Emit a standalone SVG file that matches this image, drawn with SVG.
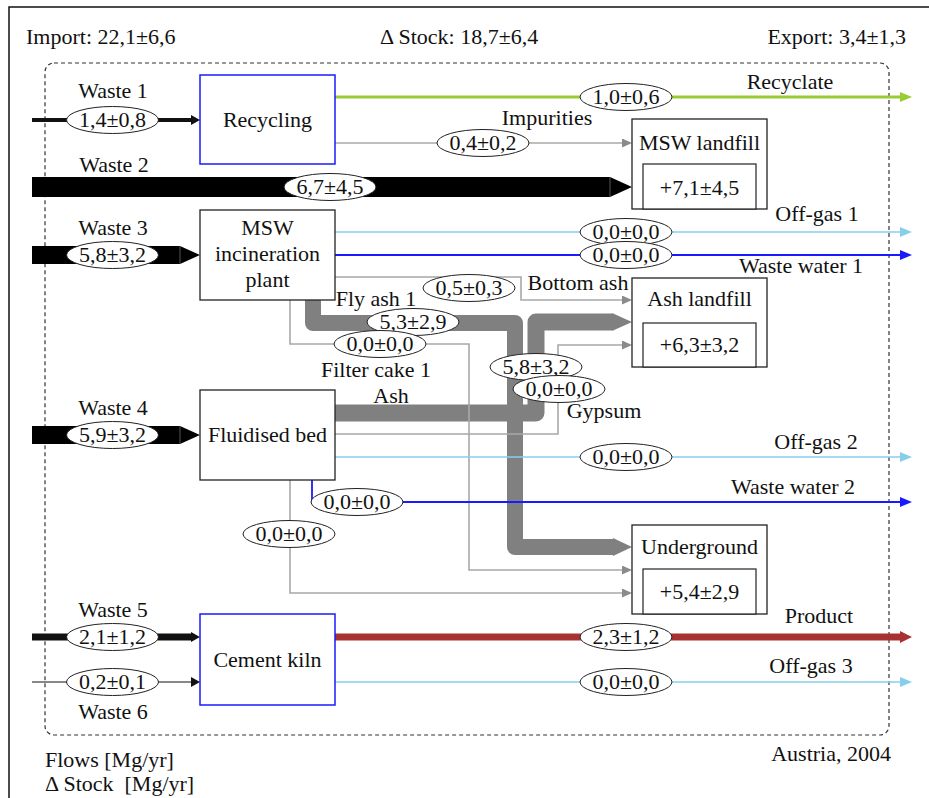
<svg xmlns="http://www.w3.org/2000/svg" width="929" height="798" viewBox="0 0 929 798">
  <style>
    text { font-family: "Liberation Serif", "Times New Roman", serif; font-size: 22px; fill: #111; }
    .c { text-anchor: middle; }
    .e { text-anchor: end; }
    .pre { white-space: pre; }
    .box { fill: #fff; stroke: #222; stroke-width: 1.3; }
    .proc-blue { fill: #fff; stroke: #1a1aff; stroke-width: 1.5; }
    .inner { fill: #fff; stroke: #222; stroke-width: 1.2; }
    .val { fill: #fff; stroke: #222; stroke-width: 1; }
    .thin-gray { fill: none; stroke: #a8a8a8; stroke-width: 1.6; }
    .band-gray { fill: none; stroke: #808080; stroke-linejoin: round; }
    .offgas { fill: none; stroke: #87ceeb; stroke-width: 1.4; }
    .water { fill: none; stroke: #1a1aff; stroke-width: 1.8; }
  </style>
  <defs>
    <marker id="arr-gray" markerUnits="userSpaceOnUse" markerWidth="10" markerHeight="9" refX="0" refY="4.5" orient="auto">
      <path d="M0,0 L10,4.5 L0,9 z" fill="#8a8a8a"/>
    </marker>
    <marker id="arr-sky" markerUnits="userSpaceOnUse" markerWidth="12" markerHeight="10" refX="0" refY="5" orient="auto">
      <path d="M0,0 L12,5 L0,10 z" fill="#87ceeb"/>
    </marker>
    <marker id="arr-blue" markerUnits="userSpaceOnUse" markerWidth="12" markerHeight="10" refX="0" refY="5" orient="auto">
      <path d="M0,0 L12,5 L0,10 z" fill="#1a1aff"/>
    </marker>
    <marker id="arr-green" markerUnits="userSpaceOnUse" markerWidth="12" markerHeight="10" refX="0" refY="5" orient="auto">
      <path d="M0,0 L12,5 L0,10 z" fill="#99cc33"/>
    </marker>
    <marker id="arr-red" markerUnits="userSpaceOnUse" markerWidth="12" markerHeight="12" refX="0" refY="6" orient="auto">
      <path d="M0,0 L12,6 L0,12 z" fill="#a83232"/>
    </marker>
    <marker id="arr-black" markerUnits="userSpaceOnUse" markerWidth="9" markerHeight="10" refX="0" refY="5" orient="auto">
      <path d="M0,0 L9,5 L0,10 z" fill="#111"/>
    </marker>
  </defs>

  <!-- page frame -->
  <path d="M9,798 V7 H929" fill="none" stroke="#111" stroke-width="1.5"/>

  <!-- totals -->
  <text x="26" y="44">Import: 22,1±6,6</text>
  <text x="380" y="44">Δ Stock: 18,7±6,4</text>
  <text class="e" x="906" y="44">Export: 3,4±1,3</text>

  <!-- system boundary -->
  <rect id="system-boundary" x="45" y="63" width="844" height="672" rx="9" fill="none" stroke="#333" stroke-width="1.2" stroke-dasharray="4,3"/>

  <g id="connectors">
    <!-- thick grey ash bands -->
    <path class="band-gray" stroke-width="16" d="M313,300 V323 H515 V547 H613"/>
    <polygon points="613,538 632,547 613,556" fill="#808080"/>
    <path class="band-gray" stroke-width="17" d="M335,413 H536 V322 H612"/>
    <polygon points="612,313 632,322 612,331" fill="#808080"/>

    <!-- thin grey flows -->
    <path class="thin-gray" d="M335,143 H622" marker-end="url(#arr-gray)"/>
    <path class="thin-gray" d="M335,277 H521 V300 H622" marker-end="url(#arr-gray)"/>
    <path class="thin-gray" d="M290,300 V344 H469 V570 H622" marker-end="url(#arr-gray)"/>
    <path class="thin-gray" d="M335,434 H558 V345 H622" marker-end="url(#arr-gray)"/>
    <path class="thin-gray" d="M290,480 V593 H622" marker-end="url(#arr-gray)"/>

    <!-- inputs -->
    <path d="M32,120 H191" fill="none" stroke="#111" stroke-width="4" marker-end="url(#arr-black)"/>
    <polygon points="32,177 610,177 632,187 610,197 32,197" fill="#000"/>
    <line x1="610" y1="177" x2="610" y2="197" stroke="#555" stroke-width="1"/>
    <polygon points="32,246 180,246 200,255 180,264 32,264" fill="#000"/>
    <line x1="180" y1="246" x2="180" y2="264" stroke="#555" stroke-width="1"/>
    <polygon points="32,426 180,426 200,435 180,444 32,444" fill="#000"/>
    <line x1="180" y1="426" x2="180" y2="444" stroke="#555" stroke-width="1"/>
    <path d="M32,637 H191" fill="none" stroke="#111" stroke-width="7" marker-end="url(#arr-black)"/>
    <path d="M32,682 H191" fill="none" stroke="#111" stroke-width="1.2" marker-end="url(#arr-black)"/>

    <!-- outputs -->
    <path d="M335,97 H900" fill="none" stroke="#99cc33" stroke-width="3" marker-end="url(#arr-green)"/>
    <path class="offgas" d="M335,232 H900" marker-end="url(#arr-sky)"/>
    <path class="water" d="M335,255 H900" marker-end="url(#arr-blue)"/>
    <path class="offgas" d="M335,457 H900" marker-end="url(#arr-sky)"/>
    <path class="water" d="M312,480 V502 H900" marker-end="url(#arr-blue)"/>
    <path d="M335,637 H900" fill="none" stroke="#a83232" stroke-width="7" marker-end="url(#arr-red)"/>
    <path class="offgas" d="M335,682 H900" marker-end="url(#arr-sky)"/>
  </g>

  <g id="flow-values">
    <g><ellipse class="val" cx="112.5" cy="120" rx="46" ry="13.5"/><text class="c" x="112.5" y="127">1,4±0,8</text></g>
    <g><ellipse class="val" cx="330" cy="187" rx="46" ry="13.5"/><text class="c" x="330" y="194">6,7±4,5</text></g>
    <g><ellipse class="val" cx="112.5" cy="255" rx="46" ry="13.5"/><text class="c" x="112.5" y="262">5,8±3,2</text></g>
    <g><ellipse class="val" cx="112.5" cy="435" rx="46" ry="13.5"/><text class="c" x="112.5" y="442">5,9±3,2</text></g>
    <g><ellipse class="val" cx="112.5" cy="637" rx="46" ry="13.5"/><text class="c" x="112.5" y="644">2,1±1,2</text></g>
    <g><ellipse class="val" cx="112.5" cy="682" rx="46" ry="13.5"/><text class="c" x="112.5" y="689">0,2±0,1</text></g>
    <g><ellipse class="val" cx="626" cy="97" rx="46" ry="13.5"/><text class="c" x="626" y="104">1,0±0,6</text></g>
    <g><ellipse class="val" cx="483" cy="143" rx="46" ry="13.5"/><text class="c" x="483" y="150">0,4±0,2</text></g>
    <g><ellipse class="val" cx="626" cy="232" rx="46" ry="13.5"/><text class="c" x="626" y="239">0,0±0,0</text></g>
    <g><ellipse class="val" cx="626" cy="255" rx="46" ry="13.5"/><text class="c" x="626" y="262">0,0±0,0</text></g>
    <g><ellipse class="val" cx="469" cy="288" rx="46" ry="13.5"/><text class="c" x="469" y="295">0,5±0,3</text></g>
    <g><ellipse class="val" cx="413" cy="322" rx="46" ry="13.5"/><text class="c" x="413" y="329">5,3±2,9</text></g>
    <g><ellipse class="val" cx="380" cy="344" rx="46" ry="13.5"/><text class="c" x="380" y="351">0,0±0,0</text></g>
    <g><ellipse class="val" cx="536" cy="367" rx="46" ry="13.5"/><text class="c" x="536" y="374">5,8±3,2</text></g>
    <g><ellipse class="val" cx="559" cy="389" rx="46" ry="13.5"/><text class="c" x="559" y="396">0,0±0,0</text></g>
    <g><ellipse class="val" cx="626" cy="457" rx="46" ry="13.5"/><text class="c" x="626" y="464">0,0±0,0</text></g>
    <g><ellipse class="val" cx="357" cy="502" rx="46" ry="13.5"/><text class="c" x="357" y="509">0,0±0,0</text></g>
    <g><ellipse class="val" cx="289" cy="534" rx="46" ry="13.5"/><text class="c" x="289" y="541">0,0±0,0</text></g>
    <g><ellipse class="val" cx="626" cy="637" rx="46" ry="13.5"/><text class="c" x="626" y="644">2,3±1,2</text></g>
    <g><ellipse class="val" cx="626" cy="682" rx="46" ry="13.5"/><text class="c" x="626" y="689">0,0±0,0</text></g>
  </g>

  <g id="flow-names">
    <text class="c" x="113" y="98">Waste 1</text>
    <text class="c" x="114" y="172">Waste 2</text>
    <text class="c" x="113" y="235">Waste 3</text>
    <text class="c" x="113" y="415">Waste 4</text>
    <text class="c" x="113" y="617">Waste 5</text>
    <text class="c" x="113" y="719">Waste 6</text>
    <text class="c" x="790" y="89">Recyclate</text>
    <text class="c" x="547" y="125">Impurities</text>
    <text class="c" x="817" y="221">Off-gas 1</text>
    <text class="c" x="801" y="273">Waste water 1</text>
    <text class="c" x="578" y="290">Bottom ash</text>
    <text class="c" x="376" y="306">Fly ash 1</text>
    <text class="c" x="376" y="377">Filter cake 1</text>
    <text class="c" x="391" y="403">Ash</text>
    <text class="c" x="604" y="418">Gypsum</text>
    <text class="c" x="816" y="449">Off-gas 2</text>
    <text class="c" x="793" y="494">Waste water 2</text>
    <text class="c" x="819" y="623">Product</text>
    <text class="c" x="811" y="673">Off-gas 3</text>
  </g>

  <!-- processes -->
  <g id="recycling">
    <rect class="proc-blue" x="200" y="75" width="135" height="89"/>
    <text class="c" x="267.5" y="127">Recycling</text>
  </g>
  <g id="msw-incineration-plant">
    <rect class="box" x="200" y="210" width="135" height="90"/>
    <text class="c" x="267.5" y="235">MSW</text>
    <text class="c" x="267.5" y="261">incineration</text>
    <text class="c" x="267.5" y="287">plant</text>
  </g>
  <g id="fluidised-bed">
    <rect class="box" x="200" y="390" width="135" height="90"/>
    <text class="c" x="267.5" y="442">Fluidised bed</text>
  </g>
  <g id="cement-kiln">
    <rect class="proc-blue" x="200" y="614" width="135" height="91"/>
    <text class="c" x="267.5" y="667">Cement kiln</text>
  </g>

  <!-- stocks -->
  <g id="msw-landfill">
    <rect class="box" x="632" y="119" width="135" height="90"/>
    <rect class="inner" x="643" y="164" width="113" height="45"/>
    <text class="c" x="699.5" y="150">MSW landfill</text>
    <text class="c" x="699.5" y="195">+7,1±4,5</text>
  </g>
  <g id="ash-landfill">
    <rect class="box" x="632" y="278" width="135" height="89"/>
    <rect class="inner" x="643" y="323" width="113" height="44"/>
    <text class="c" x="699.5" y="306">Ash landfill</text>
    <text class="c" x="699.5" y="352">+6,3±3,2</text>
  </g>
  <g id="underground">
    <rect class="box" x="632" y="525" width="135" height="89"/>
    <rect class="inner" x="643" y="569" width="113" height="45"/>
    <text class="c" x="699.5" y="554">Underground</text>
    <text class="c" x="699.5" y="599">+5,4±2,9</text>
  </g>

  <!-- legend -->
  <text class="e" x="891" y="761">Austria, 2004</text>
  <text x="45" y="767">Flows [Mg/yr]</text>
  <text class="pre" x="45" y="791">Δ Stock  [Mg/yr]</text>
</svg>
